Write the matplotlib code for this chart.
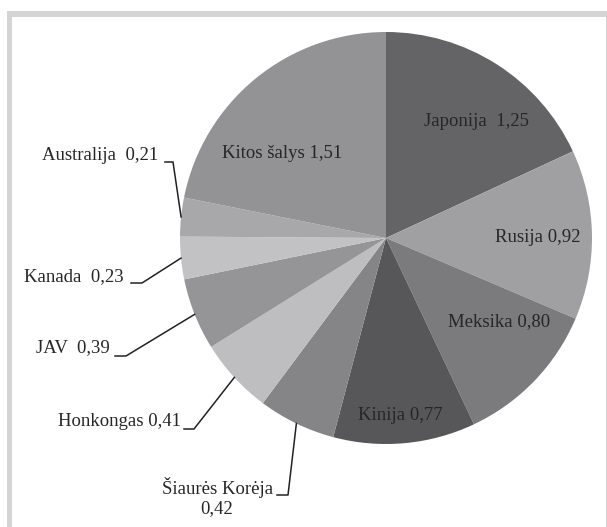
import numpy as np
import matplotlib
matplotlib.use("Agg")
import matplotlib.pyplot as plt
from matplotlib.patches import Rectangle

W, H = 607, 527

countries = ["Japonija", "Rusija", "Meksika", "Kinija", "Šiaurės Korėja",
             "Honkongas", "JAV", "Kanada", "Australija", "Kitos šalys"]
values = [1.25, 0.92, 0.80, 0.77, 0.42, 0.41, 0.39, 0.23, 0.21, 1.51]
labels = ["Japonija  1,25", "Rusija 0,92", "Meksika 0,80", "Kinija 0,77",
          "Šiaurės Korėja\n0,42", "Honkongas 0,41", "JAV  0,39",
          "Kanada  0,23", "Australija  0,21", "Kitos šalys 1,51"]
colors = ["#646466", "#a0a0a2", "#7b7b7d", "#575759", "#858587",
          "#bebec0", "#959597", "#c2c2c4", "#a8a8aa", "#939395"]

FONT = "Liberation Serif"
plt.rcParams["font.family"] = [FONT, "DejaVu Serif"]

fig = plt.figure(figsize=(W / 100, H / 100), dpi=100)
ax = fig.add_axes([0, 0, 1, 1])


def py(y):
    # pixel row (top-down) -> data y
    return H - y


# light grey frame
ax.add_patch(Rectangle((7, py(540)), 602, 540 - 11, color="#d4d4d4", lw=0, zorder=0))
ax.add_patch(Rectangle((12, py(540)), 593.5, 540 - 17, color="white", lw=0, zorder=0))

cx, cy, r = 386, py(238), 206
wedges, _ = ax.pie(values, colors=colors, startangle=90, counterclock=False,
                   center=(cx, cy), radius=r, frame=True,
                   wedgeprops=dict(linewidth=0))

fs = 13.5
tc = "#262626"
kw = dict(fontsize=fs, color=tc, family=FONT)

# labels placed inside the slices (pixel position of text centre)
inside = {0: (476, 122), 1: (538, 238), 2: (499, 322), 3: (400, 416), 9: (282, 154)}
for i, (x, y) in inside.items():
    ax.text(x, py(y), labels[i], ha="center", va="center", **kw)

# labels outside with leader lines: text right edge, text centre y, elbow start x, elbow end x, elbow y
outside = {
    8: (158, 155, 165, 173, 162),
    7: (124, 277, 131, 142, 283),
    6: (110, 348, 115, 126, 356),
    5: (181, 422, 184, 194, 429),
}
for i, (tx, ty, x0, x1, ey) in outside.items():
    w = wedges[i]
    mid = np.deg2rad((w.theta1 + w.theta2) / 2)
    ax_, ay_ = cx + r * np.cos(mid), cy + r * np.sin(mid)
    ax.text(tx, py(ty), labels[i], ha="right", va="center", **kw)
    ax.plot([x0, x1, ax_], [py(ey), py(ey), ay_], color="#222222", lw=1.1,
            solid_joinstyle="miter")

# Šiaurės Korėja: two lines, value centred under the name
w = wedges[4]
mid = np.deg2rad((w.theta1 + w.theta2) / 2)
name, val = labels[4].split("\n")
ax.text(273, py(488), name, ha="right", va="center", **kw)
ax.text(217, py(509), val, ha="center", va="center", **kw)
ax.plot([277, 288, cx + r * np.cos(mid)], [py(495), py(495), cy + r * np.sin(mid)],
        color="#222222", lw=1.1)

ax.set_xlim(0, W)
ax.set_ylim(0, H)
ax.set_aspect("equal")
ax.axis("off")

fig.savefig("out.png", dpi=100, facecolor="white")
